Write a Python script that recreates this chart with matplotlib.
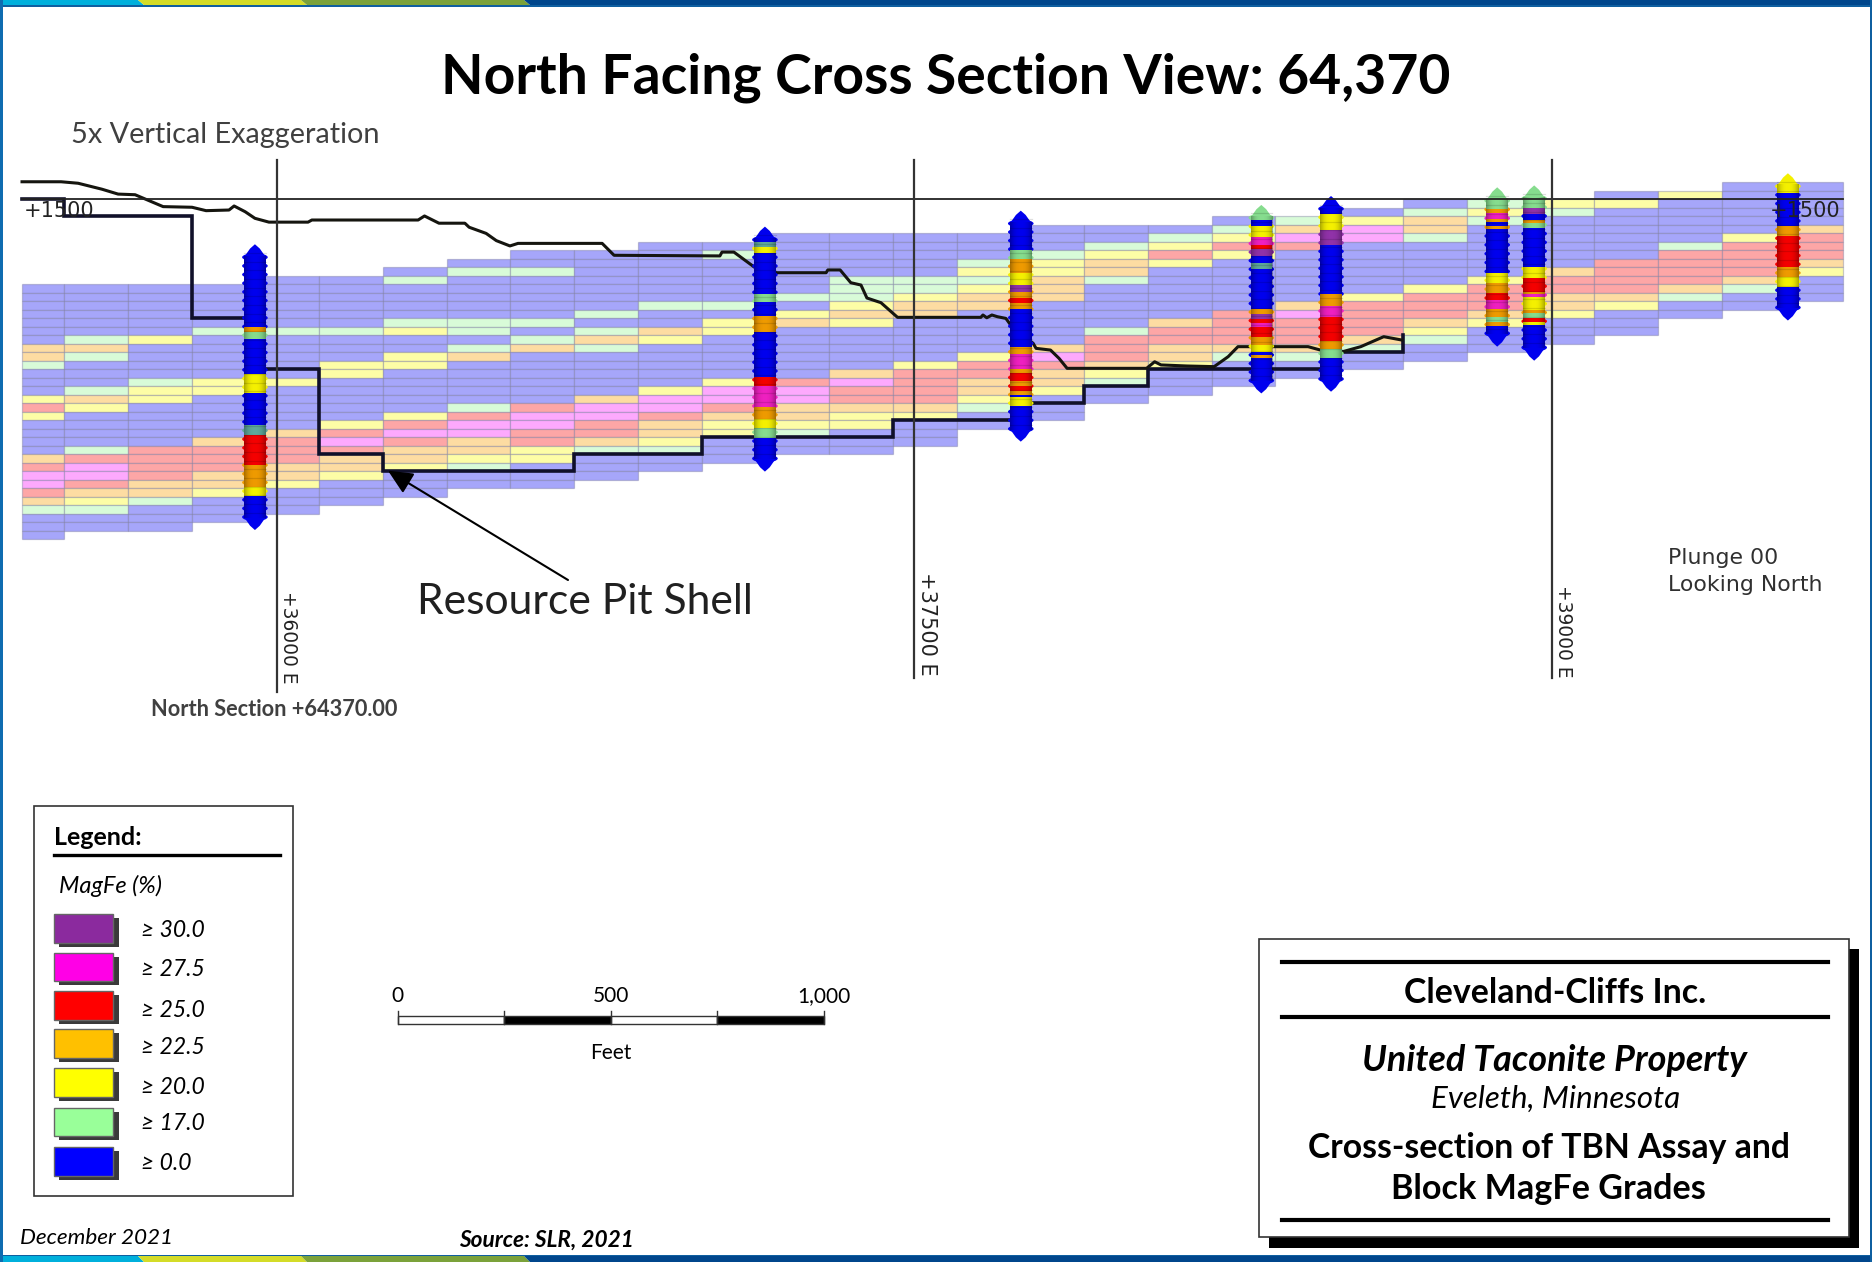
import numpy as np
import matplotlib
matplotlib.use('Agg')
import matplotlib.pyplot as plt
from matplotlib.patches import Rectangle, Ellipse, Polygon

plt.rcParams['font.family'] = ['Lato', 'DejaVu Sans']

# section grid, easting (ft) and elevation (ft)
col_edges = [35400] + list(range(35500, 39551, 150)) + [39685]
row_height = 4
col_top = [1460, 1460, 1460, 1460, 1464, 1464, 1468, 1472, 1476, 1476, 1480, 1480, 1484, 1484, 1484,
           1484, 1488, 1488, 1488, 1492, 1492, 1496, 1500, 1500, 1500, 1504, 1504, 1508, 1508]
# block grade class per column, top row first
col_codes = [
    'BBBBBBBOOGBBBYRYBBBBORMMROGBBB', 'BBBBBBGOGBBBGOYBBBBGRMMROYGBB', 'BBBBBBYBBBBGYYBBBBBRRRROOGBBB',
    'BBBBBGBBBBBYYBBBBBORRROOYBBB', 'BBBBBBGBBBBBYBBBBBORRROOYBBB', 'BBBBBBGBBBYYBBBBBYRMROOYBBB',
    'BGBBBBGYBBYYBBBBBYRMROOYBBB', 'BGBBBBBGGBGOBBBBBGRMMOOYGBB', 'BBGBBBBBGBGOBBBBBBRMMRRYYBBB',
    'BBBBBBBGBGOGBBBBBOMMRROGBBB', 'BBBBBBBGBBOYBBBBBYMMROOYGBB', 'BGBBBBBGBYYBBBBBYMMROYYBBB',
    'BBBBBBBGBYOBBBBBBRMMOOYGBB', 'BBBBBGGGYOYBBBBBOMRROYYBBB', 'BBBBBGGYOOBBBBBYRRRROYBBB',
    'BBBGYGYOOBBBBBYRROOYGBB', 'BBBGYYOOOBBBBBOMROOYBBB', 'BBGYOOGBBBBBGRRROYGBB',
    'BGYRYBBBBBBORROOYBBB', 'BGYRYBBBBBBRRRROGBBB', 'GOMRBBBBBBOMRRROGBB',
    'BYMMBBBBBBYRRRROGBB', 'BGOOGBBBBBYRRROYGBB', 'GYGBBBBBBYRRROYBBB',
    'YGBBBBBBORROOYBBB', 'BYBBBBBBRRRROYBBB', 'YBBBBBGRRRROGBB',
    'BBBBBBYRRRROGBB', 'BBBBBORRROYBBB']
block_colors = {'B': '#A6A6FA', 'G': '#D8FBD8', 'Y': '#FDFDA6', 'O': '#FDDCA2', 'R': '#FDA6A6', 'M': '#FDA9FD'}
hole_colors = {'B': '#0000EE', 'G': '#86DC8E', 'T': '#5FA89A', 'Y': '#F4F000', 'O': '#EE9A00',
               'R': '#F40000', 'M': '#EE20C0', 'P': '#9032A8'}

# topography, thin line
topo_e = [35401, 35493, 35533, 35589, 35627, 35667, 35733, 35801, 35834, 35888, 35900, 35926, 35949, 35982,
          36074, 36083, 36333, 36348, 36382, 36443, 36453, 36493, 36517, 36549, 36568, 36766, 36794, 37043,
          37048, 37076, 37125, 37177, 37293, 37297, 37326, 37351, 37375, 37389, 37422, 37461, 37657, 37662,
          37671, 37683, 37696, 37716, 37730, 37780, 37787, 37821, 37841, 37860, 38047, 38066, 38081, 38142,
          38206, 38239, 38262, 38427, 38456, 38508, 38551, 38605, 38648]
topo_z = [1508.3, 1508.3, 1507.6, 1504.8, 1502.5, 1502.2, 1496.6, 1496.3, 1494.7, 1495, 1496.9, 1494.2, 1491.1,
          1489.3, 1489.3, 1490.3, 1490.3, 1492.2, 1488.8, 1488.8, 1486.9, 1484, 1480.6, 1478.1, 1479.3, 1479.3,
          1473.7, 1473.4, 1475.2, 1475.2, 1468, 1465.5, 1465.5, 1466.8, 1466.8, 1460.8, 1459.7, 1453.6, 1451.4,
          1444.5, 1444.5, 1445.6, 1444.3, 1445.6, 1444.8, 1444, 1440.1, 1432.3, 1429.9, 1429.1, 1425.2, 1420.5,
          1420.5, 1423.6, 1422.1, 1421.6, 1421.3, 1426, 1430.7, 1430.7, 1429.1, 1428.3, 1430.7, 1435.4, 1433.8]

# resource pit shell, stepped
pit_e = [35400, 35500, 35500, 35800, 35800, 35950, 35950, 36100, 36100, 36250, 36250, 36700, 36700, 37000, 37000,
         37450, 37450, 37750, 37750, 37900, 37900, 38050, 38050, 38500, 38500, 38650, 38650]
pit_z = [1500, 1500, 1492, 1492, 1444, 1444, 1420, 1420, 1380, 1380, 1372, 1372, 1380, 1380, 1388,
         1388, 1396, 1396, 1404, 1404, 1412, 1412, 1420, 1420, 1428, 1428, 1436]

# drill holes: easting, interval boundaries (elevation), grade class of each interval
hole1_e = 35949
hole1_z = [1478.9, 1440.1, 1437.8, 1434.1, 1417.8, 1408.7, 1393.8, 1389.1, 1375, 1364.8, 1360.6, 1344.4]
hole1_c = 'BOGBYBTROYB'
hole2_e = 37149
hole2_z = [1487.2, 1480.1, 1477.4, 1474.6, 1455.5, 1451.7, 1445.1, 1437.8, 1416.6, 1412.2, 1402.2, 1396.5, 1392.3,
           1387.6, 1371.9]
hole2_c = 'BTYBGBOBRMOYGB'
hole3_e = 37751
hole3_z = [1494.7, 1476.2, 1471.8, 1465.5, 1459.7, 1456.6, 1453.4, 1451.4, 1448.3, 1430.7, 1427.3, 1420, 1418.5,
           1414.7, 1412.2, 1410, 1407.9, 1406.8, 1402.8, 1386]
hole3_c = 'BGOYPOROBOMOROROBYB'
hole4_e = 38317
hole4_z = [1497.4, 1490.3, 1487.5, 1482.5, 1478.5, 1476.5, 1473.4, 1469.9, 1467.4, 1448.6, 1446.1, 1443.6, 1442,
           1440.1, 1435.4, 1431.6, 1428.2, 1426.8, 1425.2, 1408.7]
hole4_c = 'GBYMRPBTBOPRMROYBOB'
hole5_e = 38481
hole5_z = [1501.6, 1493.1, 1485.6, 1478.5, 1455.5, 1449.8, 1444.5, 1433.5, 1429.4, 1425.2, 1409.5]
hole5_c = 'BYPBOMROGB'
hole6_e = 38872
hole6_z = [1505.7, 1495.3, 1493.4, 1490.6, 1489.5, 1487.5, 1485.9, 1465.2, 1460.5, 1456.1, 1452.7, 1448.3, 1444.8,
           1442.5, 1440.4, 1430.7]
hole6_c = 'GOMOBOBYORMOGOB'
hole7_e = 38959
hole7_z = [1506.6, 1495.8, 1493.1, 1490.3, 1489.1, 1486.4, 1468, 1462.9, 1456.6, 1455.5, 1454.2, 1447.9, 1446.4,
           1444.3, 1442.5, 1440.9, 1424.1]
hole7_c = 'GPBOGBYROMYOGRYB'
hole8_e = 39556
hole8_z = [1512.3, 1503.2, 1487.5, 1482.8, 1468.4, 1463.6, 1458.9, 1443]
hole8_c = 'YBOROYB'

section_lines = [36000, 37500, 39000]
section_line_bottom = [1268, 1274.8, 1274.8]

legend_labels = ['\u2265 30.0', '\u2265 27.5', '\u2265 25.0', '\u2265 22.5', '\u2265 20.0', '\u2265 17.0', '\u2265 0.0']
legend_colors = ['#8B2A9E', '#FF00E6', '#FF0000', '#FFC000', '#FFFF00', '#99FF99', '#0000FF']
scale_ft = [0, 250, 500, 750, 1000]

W, H = 1872, 1262
PX_FT = 0.425    # horizontal scale of the section
PX_FT_Z = 2.125  # 5x vertical exaggeration

fig = plt.figure(figsize=(W / 100, H / 100), dpi=100, facecolor='white')
ax = fig.add_axes([0, 0, 1, 1])
ax.axis('off')

# blocks
for i, codes in enumerate(col_codes):
    x0, x1 = col_edges[i], col_edges[i + 1]
    for j, c in enumerate(codes):
        z = col_top[i] - j * row_height
        ax.bar(x0, -row_height, width=x1 - x0, bottom=z, align='edge', color=block_colors[c],
               edgecolor=(0.45, 0.45, 0.6, 0.38), linewidth=0.9, zorder=1)

ax.plot(pit_e, pit_z, color='#10102a', lw=2.6, solid_joinstyle='miter', zorder=2)
ax.plot(topo_e, topo_z, color='#15150f', lw=2.2, zorder=2)


def draw_hole(e, zs, codes):
    top, bot = zs[0], zs[-1]
    half = 12.8 / PX_FT
    core = 10.8 / PX_FT
    n = int((top - bot) / 4)
    step = (top - bot) / n
    edge = np.array(zs[1:])
    # rounded ends
    for end, sign, c in [(top, -1, codes[0]), (bot, 1, codes[-1])]:
        ax.add_patch(Polygon([(e, end), (e - core * 0.45, end + sign * 0.5 * step),
                              (e - core * 0.9, end + sign * 1.3 * step), (e - core, end + sign * 2 * step),
                              (e + core, end + sign * 2 * step), (e + core * 0.9, end + sign * 1.3 * step),
                              (e + core * 0.45, end + sign * 0.5 * step)],
                             color=hole_colors[c], lw=0, zorder=3))
    for i in range(1, n - 1):
        zc = top - (i + 0.5) * step
        c = codes[min(np.searchsorted(-edge, -zc), len(codes) - 1)]
        ax.add_patch(Ellipse((e, zc), 2 * half, step * 0.9, color=hole_colors[c], lw=0, zorder=3))
        ax.plot([e - core, e + core], [zc + step / 2, zc + step / 2], color='black', alpha=0.13, lw=0.9, zorder=5)
    trim = 1.4 * step
    for k, c in enumerate(codes):
        z0, z1 = min(zs[k], top - trim), max(zs[k + 1], bot + trim)
        if z0 > z1:
            ax.bar(e, z1 - z0, width=2 * core, bottom=z0, color=hole_colors[c], lw=0, zorder=4)
    # darker rim of the round core
    u = np.linspace(-1, 1, 41)
    shade = np.zeros((1, 41, 4))
    shade[0, :, 3] = 0.3 * np.abs(u) ** 2.5
    ax.imshow(shade, extent=[e - core, e + core, bot + trim, top - trim], aspect='auto', zorder=5,
              interpolation='bilinear')


draw_hole(hole1_e, hole1_z, hole1_c)
draw_hole(hole2_e, hole2_z, hole2_c)
draw_hole(hole3_e, hole3_z, hole3_c)
draw_hole(hole4_e, hole4_z, hole4_c)
draw_hole(hole5_e, hole5_z, hole5_c)
draw_hole(hole6_e, hole6_z, hole6_c)
draw_hole(hole7_e, hole7_z, hole7_c)
draw_hole(hole8_e, hole8_z, hole8_c)

# reference lines
ax.plot([col_edges[0], col_edges[-1]], [1500, 1500], color='#222222', lw=1.3, zorder=6)
for e, zb in zip(section_lines, section_line_bottom):
    ax.plot([e, e], [1518.5, zb], color='#333333', lw=1.6, zorder=6)
ax.text(35405, 1494.5, '+1500', family='DejaVu Sans', fontsize=15, color='#222222', va='center', zorder=7)
ax.text(39680, 1494.5, '+1500', family='DejaVu Sans', fontsize=15, color='#222222', va='center', ha='right', zorder=7)

# same pixel mapping as the reference: +36000 E at 276.6, +1500 at 199.4
ax.set_xlim(36000 - 276.6 / PX_FT, 36000 + (W - 276.6) / PX_FT)
ax.set_ylim(1500 - (H - 199.4) / PX_FT_Z, 1500 + 199.4 / PX_FT_Z)

# page furniture, in pixels
lay = fig.add_axes([0, 0, 1, 1], zorder=2)
lay.set_xlim(0, W)
lay.set_ylim(H, 0)
lay.axis('off')
lay.patch.set_alpha(0)

# frame and colour strips, slanted joins
strip_x = [0, 141, 304, 527, W + 6]
strip_c = ['#00B0DC', '#D4DC28', '#7BA23A', '#00468C']
for y0, y1 in [(0, 5), (1256, 1262)]:
    for k, c in enumerate(strip_c):
        x0, x1 = strip_x[k], strip_x[k + 1]
        lay.add_patch(Polygon([(x0 - 3, y0), (x1 - 3, y0), (x1 + 3, y1), (x0 + 3, y1)], color=c, lw=0))
lay.add_patch(Rectangle((0, 5), W, 1.5, color='#0F5FA0', lw=0))
lay.add_patch(Rectangle((0, 1254.5), W, 1.5, color='#0F5FA0', lw=0))
lay.add_patch(Rectangle((0, 0), 2.5, H, color='#0F6CB0', lw=0))
lay.add_patch(Rectangle((W - 2.5, 0), 2.5, H, color='#0F5FA0', lw=0))

lay.text(946, 77.5, 'North Facing Cross Section View: 64,370', fontsize=39.8, fontweight='bold', ha='center', va='center')
lay.text(71, 135.5, '5x Vertical Exaggeration', fontsize=20.8, color='#404040', va='center')
lay.text(288.5, 637, '+36000 E', family='DejaVu Sans', fontsize=13.4, color='#222222', rotation=270, ha='center', va='center')
lay.text(927, 624, '+37500 E', family='DejaVu Sans', fontsize=15, color='#222222', rotation=270, ha='center', va='center')
lay.text(1563, 631, '+39000 E', family='DejaVu Sans', fontsize=13.4, color='#222222', rotation=270, ha='center', va='center')
lay.text(274, 710, 'North Section +64370.00', fontsize=15.7, fontweight='bold', color='#404040', ha='center', va='center')
lay.text(1668, 558, 'Plunge 00', family='DejaVu Sans', fontsize=15.8, color='#303030', va='center')
lay.text(1668, 585, 'Looking North', family='DejaVu Sans', fontsize=15.8, color='#303030', va='center')
lay.text(417, 602, 'Resource Pit Shell', fontsize=30.7, color='#202020', va='center')
lay.annotate('', xy=(388, 470.7), xytext=(568, 580),
             arrowprops=dict(arrowstyle='-|>,head_length=1.5,head_width=0.7', color='black', lw=1.5, shrinkA=0, shrinkB=0))

# legend
lay.add_patch(Rectangle((33.7, 806), 259.3, 390, fc='white', ec='#333333', lw=1.2))
lay.text(54.5, 837.5, 'Legend:', fontsize=18, fontweight='bold', va='center')
lay.plot([54, 280], [855, 855], color='black', lw=2.4)
lay.text(59, 886, 'MagFe (%)', fontsize=17, style='italic', va='center')
legend_top = [914, 952.7, 991, 1029.3, 1068, 1107.7, 1147]
legend_text_y = [930.5, 969.5, 1010.5, 1047, 1087.5, 1123.5, 1163]
for lab, c, yt, yl in zip(legend_labels, legend_colors, legend_top, legend_text_y):
    lay.add_patch(Rectangle((58.5, yt + 4), 60, 28.7, color='#3a3a3a', lw=0))
    lay.add_patch(Rectangle((53.5, yt), 59.5, 28.7, fc=c, ec='#666666', lw=1))
    lay.text(141, yl, lab, fontsize=16.5, style='italic', va='center')

# scale bar
bar_x0 = 397.6
bar_px = 0.4265
for k in range(4):
    x0 = bar_x0 + scale_ft[k] * bar_px
    x1 = bar_x0 + scale_ft[k + 1] * bar_px
    lay.add_patch(Rectangle((x0, 1016), x1 - x0, 8.3, fc='black' if k % 2 else 'white', ec='#333333', lw=1))
for ft in scale_ft[:-1]:
    lay.plot([bar_x0 + ft * bar_px] * 2, [1010.5, 1024], color='#333333', lw=1)
lay.plot([bar_x0 + 1000 * bar_px] * 2, [1010.5, 1024], color='#333333', lw=1)
for ft, lab in [(0, '0'), (500, '500'), (1000, '1,000')]:
    lay.text(bar_x0 + ft * bar_px, 996, lab, fontsize=15, ha='center', va='center')
lay.text(bar_x0 + 500 * bar_px, 1052.7, 'Feet', fontsize=15, ha='center', va='center')

lay.text(20, 1238, 'December 2021', fontsize=16.2, style='italic', va='center')
lay.text(459.5, 1240, 'Source: SLR, 2021', fontsize=16.3, style='italic', fontweight='bold', va='center')

# title block
lay.add_patch(Rectangle((1269, 949), 590, 299, color='black', lw=0))
lay.add_patch(Rectangle((1259.3, 938.7), 590, 298.6, fc='white', ec='#333333', lw=1.2))
for y in [961.7, 1016.7, 1220]:
    lay.plot([1282, 1828], [y, y], color='black', lw=3)
lay.text(1555, 993, 'Cleveland-Cliffs Inc.', fontsize=24.4, fontweight='bold', ha='center', va='center')
lay.text(1555, 1060.5, 'United Taconite Property', fontsize=25.9, fontweight='bold', style='italic', ha='center', va='center')
lay.text(1556, 1098.5, 'Eveleth, Minnesota', fontsize=22.5, style='italic', ha='center', va='center')
lay.text(1548.6, 1148, 'Cross-section of TBN Assay and', fontsize=24.3, fontweight='bold', ha='center', va='center')
lay.text(1548.6, 1189, 'Block MagFe Grades', fontsize=24.6, fontweight='bold', ha='center', va='center')

fig.savefig('out.png', dpi=100)
